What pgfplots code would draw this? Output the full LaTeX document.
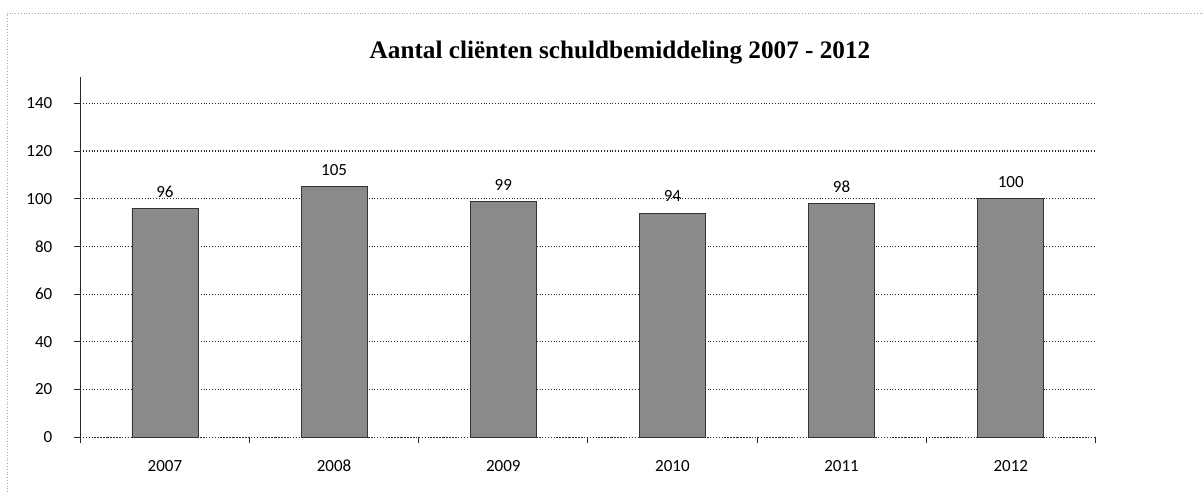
\documentclass[border=0pt]{standalone}
\usepackage{pgfplots}
\pgfplotsset{compat=1.18}
\usepackage{fontspec}
\setmainfont{Carlito}
\newfontfamily\titlefont{Liberation Serif}
\definecolor{barfill}{HTML}{8A8A8A}
\definecolor{gridc}{HTML}{2A2A2A}
\begin{document}
\begin{tikzpicture}[x=1pt,y=1pt]
\path[use as bounding box] (0,0) rectangle (602,246);
\draw[gray!70, densely dotted, line width=0.4pt] (3.5,0) -- (3.5,239.5) -- (602,239.5);
\node[font=\titlefont\bfseries\fontsize{12.6}{14}\selectfont] at (310,219.5) {Aantal cliënten schuldbemiddeling 2007 - 2012};
\begin{axis}[
  at={(47.5,23)}, anchor=south west,
  scale only axis, width=507.5pt, height=180pt,
  xmin=-0.5, xmax=5.5, ymin=0, ymax=151,
  axis x line=bottom, axis y line=left,
  axis line style={-, gridc, line width=0.5pt},
  x axis line style={densely dotted, line width=0.6pt},
  xtick=data, xticklabels={2007,2008,2009,2010,2011,2012},
  minor xtick={-0.5,0.5,...,5.5},
  ytick={0,20,...,140},
  major x tick style={draw=none},
  minor tick length=3pt,
  tick style={gridc, line width=0.4pt},
  major tick length=3pt,
  tick align=outside,
  ymajorgrids, grid style={gridc, densely dotted, line width=0.6pt},
  ticklabel style={font=\fontsize{8.5}{10}\selectfont, text=black},
  /pgf/number format/assume math mode=true,
  yticklabel style={xshift=-7.5pt},
  xticklabel style={yshift=-5pt},
  ybar, bar width=33pt,
  nodes near coords,
  nodes near coords style={font=\fontsize{8.5}{10}\selectfont, text=black, yshift=2pt},
  clip=false,
]
\addplot[fill=barfill, draw=black!80, line width=0.4pt] coordinates {(0,96) (1,105) (2,99) (3,94) (4,98) (5,100)};
\end{axis}
\end{tikzpicture}
\end{document}
